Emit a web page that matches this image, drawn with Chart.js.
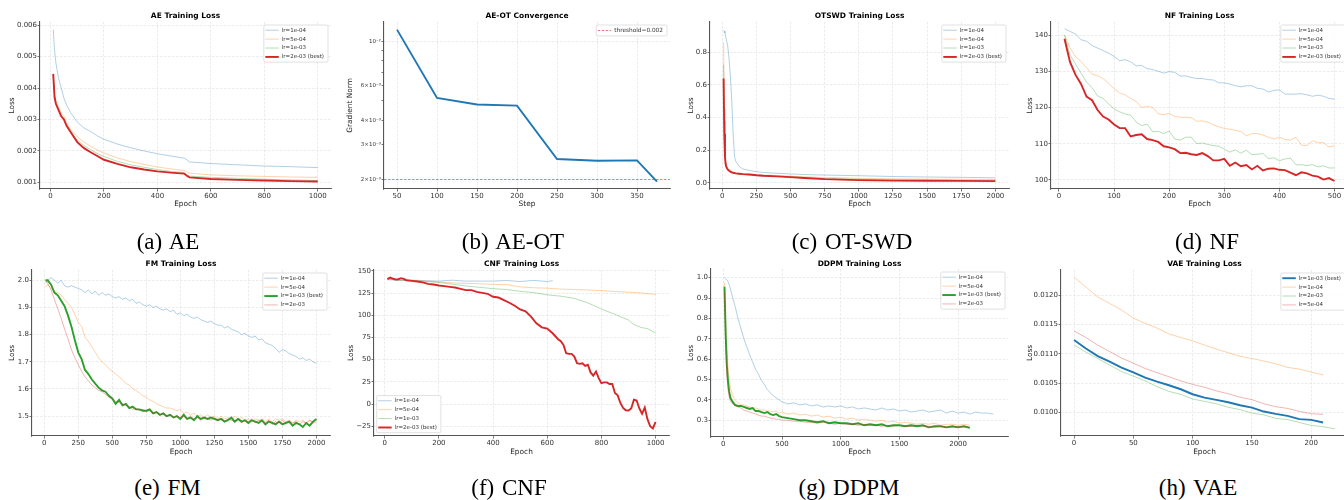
<!DOCTYPE html>
<html>
<head>
<meta charset="utf-8">
<title>Training loss panels</title>
<script src="https://cdn.jsdelivr.net/npm/chart.js"></script>
<style>
  html, body { margin: 0; padding: 0; background: #fff; }
  #page { position: relative; width: 1344px; height: 500px; overflow: hidden; background: #fff; }
  #page canvas { position: absolute; }
  .caption {
    position: absolute; transform: translate(-50%, -50%); white-space: nowrap;
    font-family: 'Liberation Serif', 'Times New Roman', serif; font-size: 23px;
    word-spacing: 2px; color: #000;
  }
</style>
</head>
<body>
<div id="page"></div>
<script>
// ---------- (a) AE ----------
const AE_EPOCHS = [10, 15, 20, 30, 40, 50, 60, 75, 100, 125, 150, 175, 200, 250, 300, 350, 400, 450, 500, 510, 520, 600, 700, 800, 900, 1000];
const AE_LR1E4 = [0.00586, 0.0052, 0.0048, 0.0043, 0.0040, 0.00368, 0.00346, 0.00322, 0.00292, 0.00273, 0.00262, 0.00248, 0.00237, 0.00222, 0.00210, 0.00200, 0.00191, 0.00184, 0.00177, 0.00172, 0.00165, 0.00160, 0.00156, 0.00152, 0.00150, 0.00147];
const AE_LR5E4 = [0.0044, 0.0038, 0.0036, 0.0034, 0.0032, 0.0031, 0.0029, 0.00268, 0.00245, 0.00228, 0.00215, 0.00203, 0.00193, 0.00178, 0.00166, 0.00157, 0.00149, 0.00143, 0.00138, 0.00133, 0.00129, 0.00124, 0.00121, 0.00119, 0.00117, 0.00116];
const AE_LR1E3 = [0.0044, 0.00375, 0.0035, 0.0033, 0.0031, 0.0030, 0.0028, 0.00258, 0.00235, 0.00217, 0.00204, 0.00192, 0.00182, 0.00167, 0.00156, 0.00148, 0.00141, 0.00135, 0.00131, 0.00125, 0.00120, 0.00116, 0.00113, 0.00110, 0.00108, 0.00106];
const AE_LR2E3 = [0.00445, 0.0037, 0.0035, 0.0033, 0.0031, 0.0030, 0.0028, 0.0026, 0.00228, 0.00209, 0.00196, 0.00184, 0.00172, 0.00159, 0.00148, 0.00141, 0.00135, 0.00131, 0.00128, 0.00121, 0.00116, 0.00111, 0.00108, 0.00106, 0.00104, 0.00103];
const AE_XTICKS = [0, 200, 400, 600, 800, 1000];
const AE_XLABELS = ['0', '200', '400', '600', '800', '1000'];
const AE_YTICKS = [0.001, 0.002, 0.003, 0.004, 0.005, 0.006];
const AE_YLABELS = ['0.001', '0.002', '0.003', '0.004', '0.005', '0.006'];

// ---------- (b) AE-OT ----------
const AEOT_STEPS = [50, 100, 150, 200, 250, 300, 350, 375];
const AEOT_GRAD = [0.0115, 0.00518, 0.0048, 0.00474, 0.00254, 0.00249, 0.0025, 0.00195];
const AEOT_THRESHOLD = 0.002;
const AEOT_XLIM = [33.75, 391.25];
const AEOT_XTICKS = [50, 100, 150, 200, 250, 300, 350];
const AEOT_XLABELS = ['50', '100', '150', '200', '250', '300', '350'];
const AEOT_YTICKS = [0.002, 0.003, 0.004, 0.005, 0.006, 0.007, 0.008, 0.009, 0.01];
const AEOT_YLABELS = ['2×10⁻³', '3×10⁻³', '4×10⁻³', '', '6×10⁻³', '', '', '', '10⁻²'];

// ---------- (c) OT-SWD ----------
const OT_EPOCHS = [10, 15, 20, 25, 30, 40, 50, 60, 70, 80, 90, 100, 125, 150, 200, 250, 300, 400, 500, 600, 750, 1000, 1250, 1500, 1750, 2000];
const OT_LR1E4 = [0.936, 0.93, 0.92, 0.90, 0.88, 0.84, 0.76, 0.65, 0.50, 0.30, 0.16, 0.13, 0.10, 0.085, 0.075, 0.068, 0.063, 0.058, 0.054, 0.05, 0.047, 0.043, 0.038, 0.035, 0.033, 0.03];
const OT_LR5E4 = [0.86, 0.45, 0.2, 0.13, 0.11, 0.09, 0.08, 0.072, 0.068, 0.065, 0.062, 0.06, 0.057, 0.055, 0.052, 0.05, 0.048, 0.044, 0.04, 0.036, 0.032, 0.027, 0.024, 0.022, 0.021, 0.02];
const OT_LR1E3 = [0.725, 0.38, 0.17, 0.12, 0.1, 0.082, 0.072, 0.066, 0.062, 0.06, 0.058, 0.056, 0.053, 0.051, 0.048, 0.045, 0.043, 0.039, 0.035, 0.031, 0.026, 0.021, 0.018, 0.016, 0.015, 0.015];
const OT_LR2E3 = [0.64, 0.3, 0.16, 0.115, 0.097, 0.082, 0.074, 0.068, 0.064, 0.061, 0.059, 0.057, 0.055, 0.053, 0.05, 0.046, 0.043, 0.039, 0.034, 0.029, 0.022, 0.016, 0.013, 0.012, 0.011, 0.01];
const OT_XTICKS = [0, 250, 500, 750, 1000, 1250, 1500, 1750, 2000];
const OT_XLABELS = ['0', '250', '500', '750', '1000', '1250', '1500', '1750', '2000'];
const OT_YTICKS = [0, 0.2, 0.4, 0.6, 0.8];
const OT_YLABELS = ['0.0', '0.2', '0.4', '0.6', '0.8'];

// ---------- (d) NF ----------
const NF_EPOCHS = [10, 20, 30, 40, 50, 60, 70, 80, 90, 100, 110, 120, 130, 140, 150, 160, 170, 180, 190, 200, 210, 220, 230, 240, 250, 260, 270, 280, 290, 300, 310, 320, 330, 340, 350, 360, 370, 380, 390, 400, 410, 420, 430, 440, 450, 460, 470, 480, 490, 500];
const NF_LR1E4 = [141.7, 141.0, 140.3, 138.7, 138.3, 137.1, 136.4, 135.7, 135.0, 134.1, 132.9, 133.2, 132.6, 131.5, 131.6, 130.7, 130.5, 130.0, 129.5, 129.9, 129.7, 128.7, 128.7, 128.3, 128.0, 128.0, 127.7, 127.6, 126.8, 126.8, 126.5, 126.0, 125.7, 126.0, 126.0, 125.3, 125.1, 124.3, 124.7, 124.9, 123.7, 123.7, 123.7, 123.8, 123.5, 123.1, 123.4, 123.1, 122.5, 122.3];
const NF_LR5E4 = [140.0, 136.5, 134.0, 132.7, 131.0, 129.2, 128.8, 128.0, 126.7, 125.2, 124.0, 123.5, 122.5, 121.7, 120.0, 120.3, 120.0, 118.3, 118.0, 118.4, 117.5, 117.3, 117.3, 117.2, 116.2, 116.3, 116.0, 115.2, 114.7, 114.2, 114.0, 113.7, 113.4, 112.2, 112.8, 112.8, 112.4, 111.8, 111.3, 111.8, 111.2, 111.0, 111.8, 109.6, 109.5, 110.8, 110.3, 110.3, 109.1, 109.5];
const NF_LR1E3 = [140.0, 134.5, 132.0, 129.5, 127.0, 125.5, 123.2, 122.5, 121.0, 119.6, 118.8, 118.2, 117.9, 116.0, 115.0, 115.4, 113.3, 113.4, 112.8, 113.5, 111.3, 111.0, 111.8, 111.8, 110.0, 110.2, 109.8, 109.5, 109.3, 108.5, 107.7, 108.3, 107.4, 108.2, 107.0, 107.1, 107.3, 105.9, 106.1, 105.3, 105.8, 106.0, 104.2, 104.2, 104.0, 104.2, 103.6, 103.9, 103.3, 103.3];
const NF_LR2E3 = [139.0, 132.6, 129.0, 126.5, 123.0, 122.0, 119.3, 117.5, 116.7, 115.3, 114.3, 114.3, 112.0, 112.4, 112.6, 111.3, 111.0, 110.5, 109.3, 109.0, 108.5, 107.4, 107.5, 107.1, 106.9, 107.4, 106.6, 105.4, 105.4, 105.8, 103.9, 104.8, 103.8, 104.1, 102.9, 103.9, 102.6, 103.1, 103.2, 102.8, 102.7, 102.0, 101.3, 102.1, 101.8, 101.2, 100.9, 100.1, 100.5, 99.7];
const NF_XTICKS = [0, 100, 200, 300, 400, 500];
const NF_XLABELS = ['0', '100', '200', '300', '400', '500'];
const NF_YTICKS = [100, 110, 120, 130, 140];
const NF_YLABELS = ['100', '110', '120', '130', '140'];

// ---------- (e) FM ----------
const FM_EPOCHS = [10, 25, 50, 75, 100, 125, 150, 175, 200, 225, 250, 275, 300, 325, 350, 375, 400, 425, 450, 475, 500, 525, 550, 575, 600, 625, 650, 675, 700, 725, 750, 775, 800, 825, 850, 875, 900, 925, 950, 975, 1000, 1025, 1050, 1075, 1100, 1125, 1150, 1175, 1200, 1225, 1250, 1275, 1300, 1325, 1350, 1375, 1400, 1425, 1450, 1475, 1500, 1525, 1550, 1575, 1600, 1625, 1650, 1675, 1700, 1725, 1750, 1775, 1800, 1825, 1850, 1875, 1900, 1925, 1950, 1975, 2000];
const FM_LR1E4 = [1.99, 2.00, 2.01, 2.00, 1.99, 2.00, 1.98, 1.975, 1.98, 1.975, 1.97, 1.965, 1.955, 1.965, 1.95, 1.96, 1.945, 1.955, 1.945, 1.95, 1.94, 1.935, 1.94, 1.93, 1.935, 1.925, 1.93, 1.915, 1.92, 1.91, 1.905, 1.91, 1.90, 1.905, 1.895, 1.89, 1.895, 1.885, 1.89, 1.875, 1.88, 1.87, 1.875, 1.865, 1.86, 1.865, 1.855, 1.85, 1.845, 1.85, 1.84, 1.835, 1.835, 1.825, 1.83, 1.82, 1.815, 1.81, 1.80, 1.805, 1.795, 1.79, 1.795, 1.78, 1.785, 1.77, 1.765, 1.76, 1.75, 1.735, 1.745, 1.74, 1.73, 1.725, 1.72, 1.71, 1.715, 1.705, 1.71, 1.70, 1.695];
const FM_LR5E4 = [1.975, 1.985, 1.97, 1.96, 1.955, 1.945, 1.93, 1.915, 1.90, 1.875, 1.845, 1.83, 1.79, 1.775, 1.755, 1.735, 1.715, 1.70, 1.69, 1.675, 1.665, 1.655, 1.645, 1.635, 1.62, 1.615, 1.60, 1.595, 1.585, 1.575, 1.57, 1.56, 1.555, 1.545, 1.54, 1.535, 1.53, 1.53, 1.525, 1.52, 1.525, 1.51, 1.515, 1.505, 1.51, 1.50, 1.505, 1.495, 1.505, 1.495, 1.50, 1.49, 1.50, 1.49, 1.495, 1.485, 1.50, 1.49, 1.495, 1.485, 1.49, 1.48, 1.49, 1.485, 1.49, 1.48, 1.49, 1.48, 1.49, 1.485, 1.49, 1.48, 1.485, 1.475, 1.485, 1.48, 1.485, 1.475, 1.485, 1.48, 1.485];
const FM_LR1E3 = [2.00, 2.00, 1.985, 1.955, 1.945, 1.925, 1.905, 1.87, 1.83, 1.78, 1.735, 1.71, 1.67, 1.655, 1.635, 1.62, 1.605, 1.595, 1.59, 1.575, 1.565, 1.545, 1.56, 1.54, 1.545, 1.53, 1.535, 1.525, 1.525, 1.52, 1.52, 1.525, 1.51, 1.515, 1.505, 1.51, 1.50, 1.505, 1.495, 1.50, 1.49, 1.505, 1.49, 1.495, 1.485, 1.50, 1.49, 1.495, 1.49, 1.495, 1.49, 1.485, 1.49, 1.48, 1.485, 1.495, 1.48, 1.49, 1.48, 1.485, 1.475, 1.485, 1.48, 1.475, 1.485, 1.47, 1.48, 1.475, 1.47, 1.48, 1.47, 1.475, 1.48, 1.465, 1.475, 1.47, 1.46, 1.475, 1.465, 1.48, 1.49];
const FM_LR2E3 = [2.00, 1.99, 1.965, 1.93, 1.895, 1.86, 1.82, 1.785, 1.745, 1.715, 1.69, 1.665, 1.645, 1.63, 1.615, 1.605, 1.595, 1.59, 1.58, 1.57, 1.565, 1.555, 1.55, 1.545, 1.54, 1.535, 1.525, 1.53, 1.52, 1.525, 1.515, 1.52, 1.51, 1.515, 1.505, 1.51, 1.50, 1.505, 1.495, 1.50, 1.495, 1.50, 1.49, 1.50, 1.49, 1.495, 1.485, 1.495, 1.49, 1.485, 1.495, 1.485, 1.49, 1.48, 1.49, 1.485, 1.48, 1.49, 1.475, 1.485, 1.48, 1.49, 1.475, 1.485, 1.48, 1.475, 1.485, 1.47, 1.48, 1.475, 1.485, 1.47, 1.48, 1.475, 1.48, 1.47, 1.48, 1.475, 1.485, 1.475, 1.48];
const FM_XTICKS = [0, 250, 500, 750, 1000, 1250, 1500, 1750, 2000];
const FM_XLABELS = ['0', '250', '500', '750', '1000', '1250', '1500', '1750', '2000'];
const FM_YTICKS = [1.5, 1.6, 1.7, 1.8, 1.9, 2.0];
const FM_YLABELS = ['1.5', '1.6', '1.7', '1.8', '1.9', '2.0'];

// ---------- (f) CNF ----------
const CNF_EPOCHS_1E4 = [10, 50, 100, 150, 200, 250, 300, 350, 400, 450, 500, 550, 600, 620];
const CNF_LR1E4 = [140, 139.5, 139.5, 139, 138.5, 139.5, 138.5, 138.5, 138.5, 139.2, 138, 139.3, 138, 139];
const CNF_EPOCHS_5E4 = [10, 50, 100, 150, 200, 250, 300, 350, 400, 450, 500, 550, 600, 650, 700, 750, 800, 850, 900, 950, 1000];
const CNF_LR5E4 = [141, 140, 139.5, 138.5, 137.5, 136.5, 136, 135.5, 134.8, 134.5, 132, 131, 130.5, 129.5, 129, 128.5, 127.8, 126.8, 126, 125, 123.5];
const CNF_EPOCHS_1E3 = [10, 50, 100, 150, 200, 250, 300, 350, 400, 450, 500, 550, 600, 650, 700, 750, 800, 850, 900, 920, 950, 970, 1000];
const CNF_LR1E3 = [141, 139.5, 139, 138, 137, 135, 133, 131.5, 130, 129, 127, 125.5, 123, 121.5, 119, 114, 107, 101, 94.6, 89.5, 86, 85, 80];
const CNF_EPOCHS_2E3 = [10, 20, 30, 40, 50, 60, 70, 80, 100, 120, 140, 160, 180, 200, 220, 240, 260, 280, 300, 320, 340, 360, 380, 400, 420, 440, 460, 480, 500, 520, 540, 560, 580, 600, 620, 640, 650, 660, 670, 680, 690, 700, 710, 720, 730, 740, 750, 760, 770, 780, 790, 800, 810, 820, 830, 840, 850, 860, 870, 880, 890, 900, 910, 920, 930, 940, 950, 960, 970, 980, 990, 1000];
const CNF_LR2E3 = [140.7, 142.5, 141.4, 140.3, 140.6, 141.8, 141.0, 139.5, 138.8, 138.0, 137.0, 135.4, 134.7, 133.5, 132.8, 132.0, 131.3, 129.8, 128.3, 128.3, 126.4, 125.3, 124.2, 120.8, 120.0, 117.1, 114.1, 110.7, 106.6, 104.4, 98.4, 91.0, 86.4, 85.0, 79.7, 73.0, 70.7, 66.6, 57.3, 56.5, 56.5, 53.5, 46.0, 45.3, 46.0, 43.0, 44.2, 35.6, 31.9, 36.7, 29.2, 23.6, 24.4, 24.4, 22.5, 22.5, 12.4, 9.8, 1.2, -4.4, -7.0, -7.4, -5.0, 5.0, 4.0, -5.0, -11.0, -4.0, -17.0, -25.0, -27.5, -20.0];
const CNF_XTICKS = [0, 200, 400, 600, 800, 1000];
const CNF_XLABELS = ['0', '200', '400', '600', '800', '1000'];
const CNF_YTICKS = [-25, 0, 25, 50, 75, 100, 125, 150];
const CNF_YLABELS = ['\u221225', '0', '25', '50', '75', '100', '125', '150'];

// ---------- (g) DDPM ----------
const DDPM_EPOCHS = [10, 20, 30, 40, 50, 60, 80, 100, 125, 150, 175, 200, 225, 250, 275, 300, 325, 350, 375, 400, 425, 450, 475, 500, 550, 600, 650, 700, 750, 800, 850, 900, 950, 1000, 1050, 1100, 1150, 1200, 1250, 1300, 1350, 1400, 1450, 1500, 1550, 1600, 1650, 1700, 1750, 1800, 1850, 1900, 1950, 2000, 2050, 2100];
const DDPM_EPOCHS_1E4 = [10, 20, 30, 40, 50, 60, 80, 100, 125, 150, 175, 200, 225, 250, 275, 300, 325, 350, 375, 400, 425, 450, 475, 500, 550, 600, 650, 700, 750, 800, 850, 900, 950, 1000, 1050, 1100, 1150, 1200, 1250, 1300, 1350, 1400, 1450, 1500, 1550, 1600, 1650, 1700, 1750, 1800, 1850, 1900, 1950, 2000, 2050, 2100, 2150, 2200, 2250, 2300];
const DDPM_LR1E4 = [1.00, 0.995, 0.99, 0.98, 0.965, 0.945, 0.90, 0.86, 0.80, 0.75, 0.70, 0.66, 0.62, 0.585, 0.55, 0.525, 0.495, 0.475, 0.45, 0.435, 0.42, 0.41, 0.40, 0.39, 0.38, 0.385, 0.375, 0.38, 0.37, 0.375, 0.365, 0.37, 0.365, 0.37, 0.36, 0.365, 0.355, 0.36, 0.355, 0.35, 0.36, 0.35, 0.355, 0.345, 0.35, 0.34, 0.345, 0.35, 0.34, 0.345, 0.35, 0.335, 0.345, 0.335, 0.34, 0.33, 0.34, 0.335, 0.335, 0.33];
const DDPM_LR5E4 = [0.975, 0.80, 0.65, 0.56, 0.50, 0.46, 0.42, 0.40, 0.385, 0.375, 0.375, 0.37, 0.365, 0.36, 0.36, 0.355, 0.35, 0.35, 0.345, 0.345, 0.34, 0.345, 0.335, 0.34, 0.33, 0.335, 0.325, 0.33, 0.32, 0.325, 0.315, 0.32, 0.31, 0.315, 0.305, 0.31, 0.30, 0.305, 0.30, 0.295, 0.30, 0.29, 0.295, 0.285, 0.29, 0.285, 0.28, 0.285, 0.28, 0.285, 0.275, 0.28, 0.28, 0.275, 0.28, 0.275];
const DDPM_LR1E3 = [0.955, 0.72, 0.57, 0.49, 0.44, 0.41, 0.39, 0.375, 0.37, 0.37, 0.365, 0.36, 0.355, 0.36, 0.345, 0.345, 0.34, 0.335, 0.34, 0.33, 0.325, 0.33, 0.32, 0.315, 0.31, 0.305, 0.30, 0.30, 0.295, 0.29, 0.295, 0.285, 0.29, 0.285, 0.285, 0.28, 0.285, 0.275, 0.28, 0.275, 0.28, 0.27, 0.275, 0.275, 0.27, 0.275, 0.27, 0.275, 0.265, 0.27, 0.27, 0.265, 0.27, 0.265, 0.27, 0.262];
const DDPM_LR2E3 = [0.93, 0.66, 0.52, 0.45, 0.415, 0.395, 0.38, 0.37, 0.365, 0.36, 0.35, 0.345, 0.34, 0.335, 0.33, 0.325, 0.32, 0.32, 0.315, 0.31, 0.31, 0.305, 0.305, 0.30, 0.30, 0.295, 0.295, 0.29, 0.29, 0.285, 0.29, 0.285, 0.28, 0.285, 0.28, 0.28, 0.275, 0.28, 0.275, 0.275, 0.27, 0.275, 0.27, 0.275, 0.27, 0.27, 0.275, 0.27, 0.27, 0.265, 0.27, 0.268, 0.265, 0.27, 0.268, 0.265];
const DDPM_XTICKS = [0, 500, 1000, 1500, 2000];
const DDPM_XLABELS = ['0', '500', '1000', '1500', '2000'];
const DDPM_YTICKS = [0.3, 0.4, 0.5, 0.6, 0.7, 0.8, 0.9, 1.0];
const DDPM_YLABELS = ['0.3', '0.4', '0.5', '0.6', '0.7', '0.8', '0.9', '1.0'];

// ---------- (h) VAE ----------
const VAE_EPOCHS = [0, 10, 20, 30, 40, 50, 60, 70, 80, 90, 100, 110, 120, 130, 140, 150, 160, 170, 180, 190, 200, 210];
const VAE_EPOCHS_2E3 = [0, 10, 20, 30, 40, 50, 60, 70, 80, 90, 100, 110, 120, 130, 140, 150, 160, 170, 180, 190, 200, 210, 220];
const VAE_LR1E3 = [0.011235, 0.011093, 0.010963, 0.010867, 0.010765, 0.010686, 0.010595, 0.010527, 0.010465, 0.010397, 0.010312, 0.010255, 0.010215, 0.010176, 0.010125, 0.010085, 0.010017, 0.009977, 0.009943, 0.009887, 0.009875, 0.00983];
const VAE_LR1E4 = [0.01231, 0.01214, 0.01197, 0.01186, 0.01175, 0.01161, 0.01152, 0.01144, 0.01134, 0.01128, 0.01122, 0.01115, 0.01108, 0.01102, 0.01096, 0.01092, 0.01088, 0.01083, 0.01077, 0.01074, 0.01069, 0.01064];
const VAE_LR2E3 = [0.01115, 0.01103, 0.01092, 0.01081, 0.0107, 0.01062, 0.01054, 0.01044, 0.01036, 0.01031, 0.01023, 0.01019, 0.01015, 0.01009, 0.01005, 0.00999, 0.00996, 0.0099, 0.00988, 0.00983, 0.00978, 0.00976, 0.00972];
const VAE_LR5E4 = [0.01139, 0.01128, 0.01115, 0.01104, 0.01093, 0.01084, 0.01075, 0.01068, 0.01061, 0.01054, 0.01048, 0.01043, 0.01037, 0.01032, 0.01026, 0.01022, 0.01015, 0.0101, 0.01007, 0.01002, 0.00998, 0.00997];
const VAE_XTICKS = [0, 50, 100, 150, 200];
const VAE_XLABELS = ['0', '50', '100', '150', '200'];
const VAE_YTICKS = [0.0100, 0.0105, 0.0110, 0.0115, 0.0120];
const VAE_YLABELS = ['0.0100', '0.0105', '0.0110', '0.0115', '0.0120'];

// ---------- layout (page pixels) ----------
// rect = plot area [left, top, right, bottom]
const LAYOUT = {
  ae:   { rect: [40, 22, 331, 189],    titleY: 15.7,  yTitleX: 12,   xTitleY: 204.3 },
  aeot: { rect: [384, 22, 670, 189],   titleY: 15.7,  yTitleX: 350,  xTitleY: 204.3 },
  ot:   { rect: [710, 22, 1009, 189],  titleY: 15.7,  yTitleX: 691,  xTitleY: 204.3 },
  nf:   { rect: [1051, 22, 1348, 189], titleY: 15.7,  yTitleX: 1030, xTitleY: 204.3 },
  fm:   { rect: [32, 270, 330, 436],   titleY: 263.7, yTitleX: 12,   xTitleY: 451.7 },
  cnf:  { rect: [374, 270, 669, 436],  titleY: 263.7, yTitleX: 351,  xTitleY: 451.7 },
  ddpm: { rect: [711, 269, 1008, 437], titleY: 263.7, yTitleX: 691,  xTitleY: 451.7 },
  vae:  { rect: [1061, 270, 1348, 436], titleY: 263.7, yTitleX: 1030, xTitleY: 451.7 }
};
const CAPTIONS = [
  ['(a) AE', 168, 242], ['(b) AE-OT', 513, 242], ['(c) OT-SWD', 852, 242], ['(d) NF', 1207, 242],
  ['(e) FM', 167.5, 488], ['(f) CNF', 509, 488], ['(g) DDPM', 849, 488], ['(h) VAE', 1198, 488]
];

const FONT = "'DejaVu Sans', sans-serif";
const GRID_COLOR = '#e2e2e2';
const BLUE = [31, 119, 180], ORANGE = [255, 127, 14], GREEN = [44, 160, 44], RED = [214, 39, 40];

function rgba(c, a) {
  return `rgba(${c[0]}, ${c[1]}, ${c[2]}, ${a})`;
}

function series(label, xs, ys, color, best) {
  return {
    label: label,
    data: xs.map((x, i) => ({ x: x, y: ys[i] })),
    borderColor: best ? rgba(color, 1) : rgba(color, 0.35),
    borderWidth: best ? 1.9 : 1,
    pointRadius: 0,
    tension: 0,
    fill: false
  };
}

// legend drawn inside the plot area, like matplotlib's boxed legend
const innerLegend = {
  id: 'innerLegend',
  afterDraw(chart, args, opts) {
    const items = chart.data.datasets.filter(d => d.label);
    if (!items.length) return;
    const ctx = chart.ctx;
    const area = chart.chartArea;
    const size = opts.size || 5.5;
    const rowH = size * 1.62;
    ctx.save();
    ctx.font = `${size}px ${FONT}`;
    const textW = Math.max(...items.map(d => ctx.measureText(d.label).width));
    const w = textW + 22;
    const h = items.length * rowH + 1.5;
    const x = opts.corner === 'bl' ? area.left + 2.7 : area.right - 3 - w;
    const y = opts.corner === 'bl' ? area.bottom - 3.3 - h : area.top + 3;
    ctx.beginPath();
    ctx.roundRect(x, y, w, h, 1.5);
    ctx.fillStyle = 'rgba(255, 255, 255, 0.85)';
    ctx.fill();
    ctx.lineWidth = 0.6;
    ctx.strokeStyle = '#cccccc';
    ctx.stroke();
    items.forEach((d, i) => {
      const cy = y + 0.75 + rowH * (i + 0.5);
      ctx.beginPath();
      ctx.setLineDash(d.borderDash || []);
      ctx.strokeStyle = d.borderColor;
      ctx.lineWidth = d.borderWidth;
      ctx.moveTo(x + 1.5, cy);
      ctx.lineTo(x + 15, cy);
      ctx.stroke();
      ctx.setLineDash([]);
      ctx.fillStyle = '#333';
      ctx.textBaseline = 'middle';
      ctx.textAlign = 'left';
      ctx.fillText(d.label, x + 18, cy);
    });
    ctx.restore();
  }
};

function axisOpts(dir, a, L) {
  const [l, t, r, b] = L.rect;
  const titlePad = dir === 'x'
    ? { top: 0, bottom: b + 30 - 4.44 - L.xTitleY }
    : { top: L.yTitleX - (l - 40) - 4.44, bottom: 0 };
  return {
    type: a.type || 'linear',
    min: a.lim[0],
    max: a.lim[1],
    bounds: 'data',
    afterBuildTicks: s => { s.ticks = a.ticks.map(v => ({ value: v })); },
    afterFit: s => { if (dir === 'x') s.height = 30; else s.width = 40; },
    ticks: {
      autoSkip: false, maxRotation: 0, minRotation: 0, padding: 0.5, color: '#333',
      font: { family: FONT, size: a.tickSize || 7 },
      callback: (v, i) => a.labels[i]
    },
    grid: {
      color: a.gridColor || GRID_COLOR, lineWidth: 0.7,
      tickColor: '#555', tickLength: 2.5, tickWidth: 0.8
    },
    border: { display: true, color: '#555', width: 1.1, dash: [2.5, 1.5] },
    title: { display: true, text: a.title, color: '#222', font: { family: FONT, size: 7.4 }, padding: titlePad }
  };
}

function buildChart(key, cfg) {
  const L = LAYOUT[key];
  const [l, t, r, b] = L.rect;
  const cv = document.createElement('canvas');
  cv.width = r - l + 46;
  cv.height = b - t + 54;
  cv.style.left = (l - 40) + 'px';
  cv.style.top = (t - 24) + 'px';
  document.getElementById('page').appendChild(cv);
  const titleTop = L.titleY - (t - 24) - 4.5;
  cfg.datasets.forEach((d, i) => { d.order = -i; });
  new Chart(cv, {
    type: 'line',
    data: { datasets: cfg.datasets },
    plugins: [innerLegend],
    options: {
      responsive: false,
      animation: false,
      devicePixelRatio: 1,
      layout: { padding: { left: 0, top: 0, right: 6, bottom: 0 } },
      plugins: {
        legend: { display: false },
        tooltip: { enabled: false },
        title: {
          display: true, text: cfg.title, fullSize: false, color: '#000',
          font: { family: FONT, size: 7.5, weight: 'bold' },
          padding: { top: titleTop, bottom: 24 - 9 - titleTop }
        },
        innerLegend: { corner: cfg.legendCorner || 'tr', size: cfg.legendSize || 5.5 }
      },
      scales: {
        x: axisOpts('x', cfg.x, L),
        y: axisOpts('y', cfg.y, L)
      }
    }
  });
}

// (a)
buildChart('ae', {
  title: 'AE Training Loss',
  datasets: [
    series('lr=1e-04', AE_EPOCHS, AE_LR1E4, BLUE, false),
    series('lr=5e-04', AE_EPOCHS, AE_LR5E4, ORANGE, false),
    series('lr=1e-03', AE_EPOCHS, AE_LR1E3, GREEN, false),
    series('lr=2e-03 (best)', AE_EPOCHS, AE_LR2E3, RED, true)
  ],
  x: { lim: [-39.5, 1049.5], ticks: AE_XTICKS, labels: AE_XLABELS, title: 'Epoch' },
  y: { lim: [0.00079, 0.0061], ticks: AE_YTICKS, labels: AE_YLABELS, title: 'Loss' }
});

// (b)
const aeotLine = series('', AEOT_STEPS, AEOT_GRAD, BLUE, true);
const aeotThreshold = {
  label: 'threshold=0.002',
  data: [{ x: AEOT_XLIM[0], y: AEOT_THRESHOLD }, { x: AEOT_XLIM[1], y: AEOT_THRESHOLD }],
  borderColor: rgba(RED, 0.6),
  borderWidth: 1.1,
  borderDash: [2.5, 1.5],
  pointRadius: 0
};
buildChart('aeot', {
  title: 'AE-OT Convergence',
  legendSize: 5.8,
  datasets: [aeotLine, aeotThreshold],
  x: { lim: AEOT_XLIM, ticks: AEOT_XTICKS, labels: AEOT_XLABELS, title: 'Step' },
  y: {
    type: 'logarithmic', lim: [0.00179, 0.01257], ticks: AEOT_YTICKS, labels: AEOT_YLABELS,
    title: 'Gradient Norm', tickSize: 5.5,
    gridColor: c => (c.tick && c.tick.value === 0.01 ? GRID_COLOR : 'rgba(0, 0, 0, 0)')
  }
});

// (c)
buildChart('ot', {
  title: 'OTSWD Training Loss',
  datasets: [
    series('lr=1e-04', OT_EPOCHS, OT_LR1E4, BLUE, false),
    series('lr=5e-04', OT_EPOCHS, OT_LR5E4, ORANGE, false),
    series('lr=1e-03', OT_EPOCHS, OT_LR1E3, GREEN, false),
    series('lr=2e-03 (best)', OT_EPOCHS, OT_LR2E3, RED, true)
  ],
  x: { lim: [-89.5, 2099.5], ticks: OT_XTICKS, labels: OT_XLABELS, title: 'Epoch' },
  y: { lim: [-0.0386, 0.9866], ticks: OT_YTICKS, labels: OT_YLABELS, title: 'Loss' }
});

// (d)
buildChart('nf', {
  title: 'NF Training Loss',
  datasets: [
    series('lr=1e-04', NF_EPOCHS, NF_LR1E4, BLUE, false),
    series('lr=5e-04', NF_EPOCHS, NF_LR5E4, ORANGE, false),
    series('lr=1e-03', NF_EPOCHS, NF_LR1E3, GREEN, false),
    series('lr=2e-03 (best)', NF_EPOCHS, NF_LR2E3, RED, true)
  ],
  x: { lim: [-14.5, 524.5], ticks: NF_XTICKS, labels: NF_XLABELS, title: 'Epoch' },
  y: { lim: [97.5, 143.6], ticks: NF_YTICKS, labels: NF_YLABELS, title: 'Loss' }
});

// (e)
buildChart('fm', {
  title: 'FM Training Loss',
  datasets: [
    series('lr=1e-04', FM_EPOCHS, FM_LR1E4, BLUE, false),
    series('lr=5e-04', FM_EPOCHS, FM_LR5E4, ORANGE, false),
    series('lr=1e-03 (best)', FM_EPOCHS, FM_LR1E3, GREEN, true),
    series('lr=2e-03', FM_EPOCHS, FM_LR2E3, RED, false)
  ],
  x: { lim: [-89.5, 2099.5], ticks: FM_XTICKS, labels: FM_XLABELS, title: 'Epoch' },
  y: { lim: [1.427, 2.038], ticks: FM_YTICKS, labels: FM_YLABELS, title: 'Loss' }
});

// (f)
buildChart('cnf', {
  title: 'CNF Training Loss',
  legendCorner: 'bl',
  datasets: [
    series('lr=1e-04', CNF_EPOCHS_1E4, CNF_LR1E4, BLUE, false),
    series('lr=5e-04', CNF_EPOCHS_5E4, CNF_LR5E4, ORANGE, false),
    series('lr=1e-03', CNF_EPOCHS_1E3, CNF_LR1E3, GREEN, false),
    series('lr=2e-03 (best)', CNF_EPOCHS_2E3, CNF_LR2E3, RED, true)
  ],
  x: { lim: [-39.5, 1049.5], ticks: CNF_XTICKS, labels: CNF_XLABELS, title: 'Epoch' },
  y: { lim: [-36, 151], ticks: CNF_YTICKS, labels: CNF_YLABELS, title: 'Loss' }
});

// (g)
buildChart('ddpm', {
  title: 'DDPM Training Loss',
  datasets: [
    series('lr=1e-04', DDPM_EPOCHS_1E4, DDPM_LR1E4, BLUE, false),
    series('lr=5e-04', DDPM_EPOCHS, DDPM_LR5E4, ORANGE, false),
    series('lr=1e-03 (best)', DDPM_EPOCHS, DDPM_LR1E3, GREEN, true),
    series('lr=2e-03', DDPM_EPOCHS, DDPM_LR2E3, RED, false)
  ],
  x: { lim: [-105, 2425], ticks: DDPM_XTICKS, labels: DDPM_XLABELS, title: 'Epoch' },
  y: { lim: [0.2175, 1.0425], ticks: DDPM_YTICKS, labels: DDPM_YLABELS, title: 'Loss' }
});

// (h)
buildChart('vae', {
  title: 'VAE Training Loss',
  datasets: [
    series('lr=1e-03 (best)', VAE_EPOCHS, VAE_LR1E3, BLUE, true),
    series('lr=1e-04', VAE_EPOCHS, VAE_LR1E4, ORANGE, false),
    series('lr=2e-03', VAE_EPOCHS_2E3, VAE_LR2E3, GREEN, false),
    series('lr=5e-04', VAE_EPOCHS, VAE_LR5E4, RED, false)
  ],
  x: { lim: [-11, 231], ticks: VAE_XTICKS, labels: VAE_XLABELS, title: 'Epoch' },
  y: { lim: [0.0096, 0.01243], ticks: VAE_YTICKS, labels: VAE_YLABELS, title: 'Loss' }
});

CAPTIONS.forEach(([text, x, y]) => {
  const div = document.createElement('div');
  div.className = 'caption';
  div.textContent = text;
  div.style.left = x + 'px';
  div.style.top = y + 'px';
  document.getElementById('page').appendChild(div);
});
</script>
</body>
</html>
